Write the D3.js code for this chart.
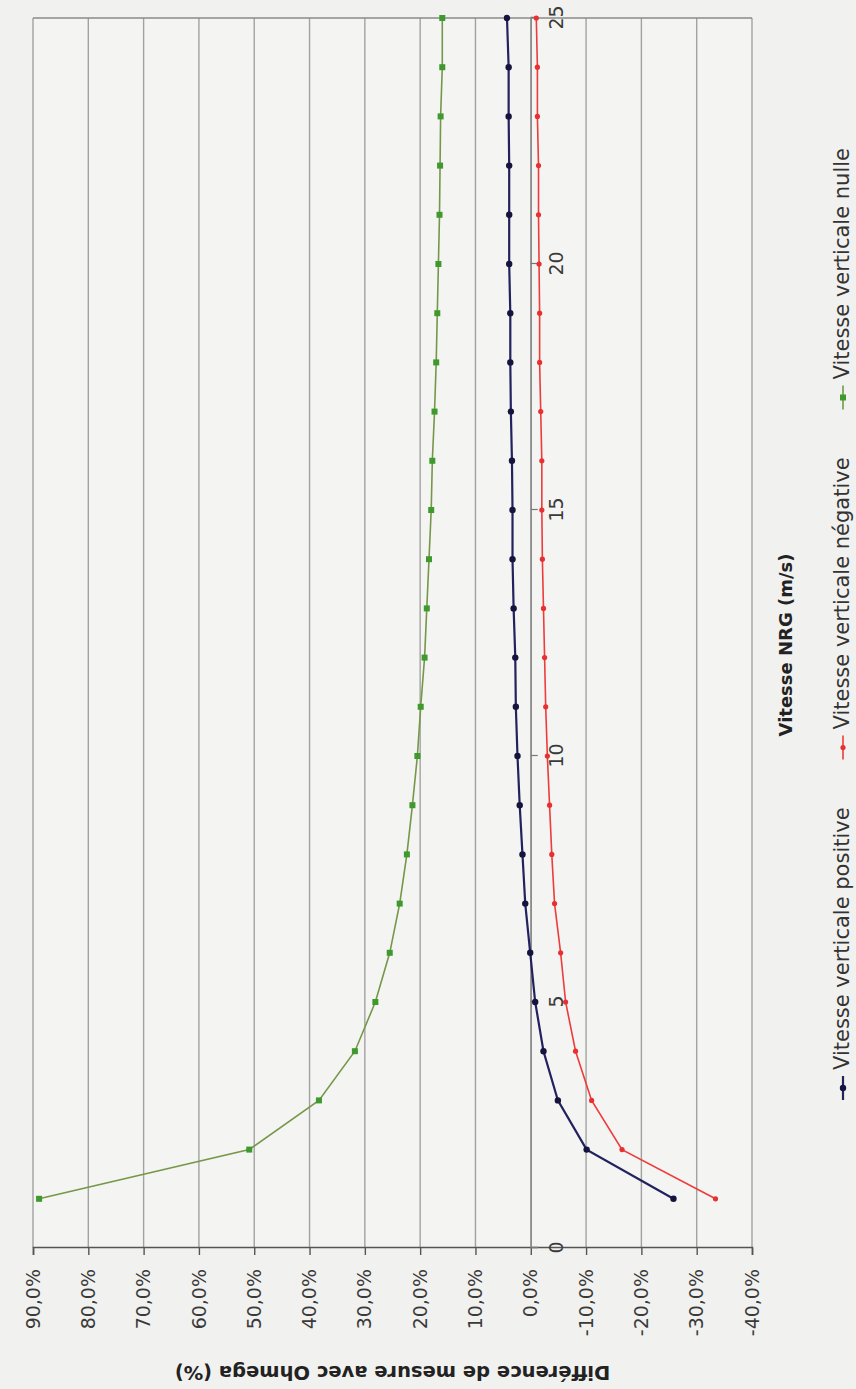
<!DOCTYPE html>
<html><head><meta charset="utf-8">
<script src="https://cdn.jsdelivr.net/npm/d3@7"></script>
<style>body{margin:0;background:#f1f1ef;}svg{display:block}</style>
</head><body>
<svg id="c" width="856" height="1389"></svg>
<script>
// ---- data ----
const speeds = [1,2,3,4,5,6,7,8,9,10,11,12,13,14,15,16,17,18,19,20,21,22,23,24,25];
const positive = [-25.8,-10.1,-4.9,-2.3,-0.8,0.1,1.0,1.5,2.0,2.4,2.7,2.8,3.1,3.3,3.3,3.4,3.6,3.7,3.7,3.9,3.9,3.9,4.0,4.0,4.3];
const negative = [-33.4,-16.5,-11.0,-8.1,-6.3,-5.4,-4.3,-3.8,-3.4,-3.0,-2.7,-2.5,-2.3,-2.1,-2.0,-2.0,-1.8,-1.6,-1.6,-1.5,-1.4,-1.4,-1.2,-1.2,-1.0];
const nulle = [88.9,50.9,38.3,31.8,28.1,25.5,23.7,22.4,21.4,20.5,19.9,19.2,18.8,18.4,18.0,17.8,17.4,17.1,16.9,16.7,16.5,16.4,16.3,16.0,16.0];
const xTicks = [0,5,10,15,20,25];
const yTicks = [90,80,70,60,50,40,30,20,10,0,-10,-20,-30,-40];
const seriesNames = ["Vitesse verticale positive","Vitesse verticale négative","Vitesse verticale nulle"];
const xTitle = "Vitesse NRG (m/s)";
const yTitle = "Différence de mesure avec Ohmega (%)";

// ---- chart drawn in unrotated frame, then rotated -90deg ----
const W = 1389, H = 856;
const svg = d3.select("#c");
const g = svg.append("g").attr("transform", `translate(0,${W}) rotate(-90)`);
const font = "DejaVu Sans, Verdana, sans-serif";

const x = d3.scaleLinear().domain([0,25]).range([141,1371]);
const y = d3.scaleLinear().domain([-40,90]).range([752,33]);

g.append("rect").attr("x",x(0)).attr("y",y(90)).attr("width",x(25)-x(0)).attr("height",y(-40)-y(90))
 .attr("fill","#f4f4f2");

// gridlines
g.append("g").selectAll("line").data(yTicks).join("line")
 .attr("x1",x(0)).attr("x2",x(25)).attr("y1",d=>y(d)).attr("y2",d=>y(d))
 .attr("stroke","#a2a2a2").attr("stroke-width",1.4);
// right border
g.append("line").attr("x1",x(25)).attr("x2",x(25)).attr("y1",y(90)).attr("y2",y(-40))
 .attr("stroke","#8a8a8a").attr("stroke-width",1.6);

// value axis (left in unrotated frame)
const yAxis = d3.axisLeft(y).tickValues(yTicks).tickSize(7).tickPadding(14)
  .tickFormat(d => d3.format(".1f")(d).replace(".",",").replace("\u2212","-") + "%");
const ya = g.append("g").attr("transform",`translate(${x(0)},0)`).call(yAxis);
ya.select(".domain").attr("stroke","#555").attr("stroke-width",1.6);
ya.selectAll(".tick line").attr("stroke","#555").attr("stroke-width",1.4);
ya.selectAll("text").attr("font-family",font).attr("font-size",19).attr("fill","#3a3a3a");

// category axis at 0
const xAxis = d3.axisBottom(x).tickValues(xTicks).tickSize(7).tickPadding(12).tickFormat(d3.format("d"));
const xa = g.append("g").attr("transform",`translate(0,${y(0)})`).call(xAxis);
xa.select(".domain").attr("stroke","#8a8a8a").attr("stroke-width",1.4);
xa.selectAll(".tick line").attr("stroke","#777").attr("stroke-width",1.2);
xa.selectAll("text").attr("font-family",font).attr("font-size",19).attr("fill","#3a3a3a");

// series
const series = [
  {name:seriesNames[0], vals:positive, line:"#22225e", mark:"#14143f", lw:2.2, shape:"circle", ms:3.2},
  {name:seriesNames[1], vals:negative, line:"#ee3b3b", mark:"#e83030", lw:1.6, shape:"circle", ms:2.6},
  {name:seriesNames[2], vals:nulle, line:"#76974a", mark:"#3e9a2c", lw:1.6, shape:"square", ms:3.0}
];
const lineGen = d3.line().x((d,i)=>x(speeds[i])).y(d=>y(d));
function drawMarker(sel, s, cx, cy){
  if(s.shape==="square"){
    sel.append("rect").attr("x",cx-s.ms).attr("y",cy-s.ms).attr("width",2*s.ms).attr("height",2*s.ms).attr("fill",s.mark);
  } else {
    sel.append("circle").attr("cx",cx).attr("cy",cy).attr("r",s.ms).attr("fill",s.mark);
  }
}
series.forEach(s=>{
  g.append("path").datum(s.vals).attr("d",lineGen).attr("fill","none")
   .attr("stroke",s.line).attr("stroke-width",s.lw);
  const mg = g.append("g");
  s.vals.forEach((v,i)=>drawMarker(mg,s,x(speeds[i]),y(v)));
});

// titles
g.append("text").attr("x",W-645).attr("y",787).attr("text-anchor","middle")
 .attr("dominant-baseline","middle").attr("font-family",font).attr("font-weight","bold")
 .attr("font-size",18).attr("fill","#222").text(xTitle);
g.append("text").attr("transform",`translate(18,${(y(90)+y(-40))/2}) rotate(-90)`)
 .attr("text-anchor","middle").attr("dominant-baseline","middle").attr("font-family",font)
 .attr("font-weight","bold").attr("font-size",19.5).attr("fill","#222").text(yTitle);

// legend (spans from screen y 1100 to 148)
const legStart = W-1100, legEnd = W-148, ly = 843, lfs = 21;
const lg = g.append("g");
const items = series.map(s=>{
  const it = lg.append("g");
  it.append("line").attr("x1",0).attr("x2",24).attr("y1",ly).attr("y2",ly)
    .attr("stroke",s.line).attr("stroke-width",s.lw);
  drawMarker(it,s,12,ly);
  const t = it.append("text").attr("x",30).attr("y",ly).attr("dominant-baseline","middle")
    .attr("font-family",font).attr("font-size",lfs).attr("fill","#333").text(s.name);
  return {it, w:30 + t.node().getComputedTextLength()};
});
const totalW = d3.sum(items, d=>d.w);
const gap = (legEnd - legStart - totalW) / (items.length - 1);
let lx = legStart;
items.forEach(d=>{ d.it.attr("transform",`translate(${lx},0)`); lx += d.w + gap; });
</script>
</body></html>
